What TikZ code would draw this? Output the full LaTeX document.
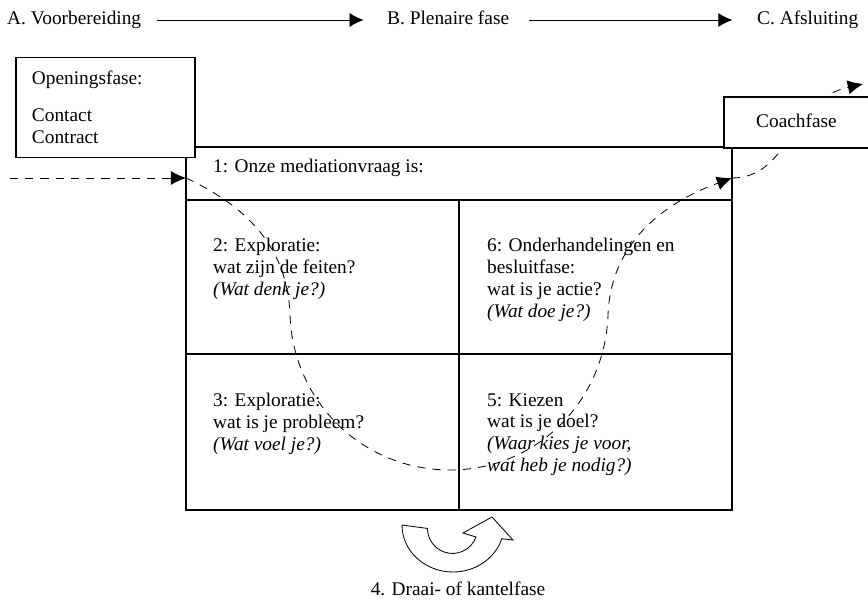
\documentclass[tikz,border=0pt]{standalone}
\usepackage{fontspec}
\setmainfont{Liberation Serif}
\usetikzlibrary{arrows.meta}
\tikzset{
  tekst/.style={inner sep=0pt, font=\fontsize{16.5}{18.6}\selectfont},
  fase/.style={tekst, anchor=west, text height=11pt, text depth=3pt},
  cel/.style={tekst, anchor=north west, align=left},
  vak/.style={draw, line width=0.9pt, fill=white},
  pijl/.style={line width=0.8pt, -{Latex[length=12pt,width=12pt]}},
  stippel/.style={line width=0.7pt, dash pattern=on 7pt off 6pt},
  punt/.style={-{Latex[length=13pt,width=12pt]}},
  draaipijl/.style={draw, fill=white, line width=0.7pt}
}
\begin{document}
\begin{tikzpicture}[x=0.03cm, y=0.03cm]
    \useasboundingbox (0,0) rectangle (868,-600);

    % Fasen bovenaan
    \node[fase] (voor) at (7,-20) {A. Voorbereiding};
    \node[fase] (plen) at (387,-20) {B. Plenaire fase};
    \node[fase] (afsl) at (757,-20) {C. Afsluiting};
    \draw[pijl, shorten <=13pt, shorten >=20pt] (voor) -- (plen);
    \draw[pijl, shorten <=17pt, shorten >=21pt] (plen) -- (afsl);

    % Schema met de vakken
    \draw[line width=0.9pt] (186,-147) rectangle (732,-510);
    \draw[line width=0.9pt] (186,-200) -- (732,-200);
    \draw[line width=0.9pt] (186,-354) -- (732,-354);
    \draw[line width=0.9pt] (459,-200) -- (459,-510);

    % Openingsfase
    \node[vak, tekst, minimum width=5.37cm, minimum height=3cm, text width=4.41cm, align=left]
        (opening) at (105.5,-107.5) {Openingsfase:\\[13pt]Contact\\Contract};

    % Teksten in de vakken
    \node[cel] (vraag) at (213,-159) {1: Onze mediationvraag is:};
    \node[cel] (cel2) at (213,-238) {2: Exploratie:\\wat zijn de feiten?\\\textit{(Wat denk je?)}};
    \node[cel] (cel3) at (213,-393) {3: Exploratie:\\wat is je probleem?\\\textit{(Wat voel je?)}};
    \node[cel] (cel6) at (487,-238) {6: Onderhandelingen en\\besluitfase:\\wat is je actie?\\\textit{(Wat doe je?)}};
    \node[cel] (cel5) at (487,-393) {5: Kiezen\\wat is je doel?\\\textit{(Waar kies je voor,}\\\textit{wat heb je nodig?)}};

    % Gestippelde route
    \coordinate (instap) at (10,-178);
    \coordinate (links) at (186,-178);
    \coordinate (rechts) at (732,-178);
    \coordinate (uit) at (863,-84);
    \draw[stippel, punt] (instap) -- (links);
    \draw[stippel, punt] (links) to[out=-25,in=92] (290,-315) to[out=-88,in=180] (450,-470)
        to[out=0,in=-92] (608,-315) to[out=88,in=200] (rechts);
    \draw[stippel, punt] (rechts) .. controls (790,-178) and (790,-100) .. (uit);

    % Coachfase
    \fill[white] (724,-97) rectangle (868,-148);
    \draw[line width=0.9pt] (868,-97) -- (724,-97) -- (724,-148) -- (868,-148);
    \node[cel] (coach) at (756,-114) {Coachfase};

    % Draai- of kantelfase
    \draw[draaipijl] (402,-525) arc[start angle=180, end angle=343, x radius=51, y radius=47]
        -- (513,-540) -- (492,-517) -- (463,-533) -- (476,-537)
        arc[start angle=340, end angle=180, radius=25] -- cycle;
    \node[tekst, anchor=north] (draai) at (458,-582) {4. Draai- of kantelfase};
\end{tikzpicture}
\end{document}
